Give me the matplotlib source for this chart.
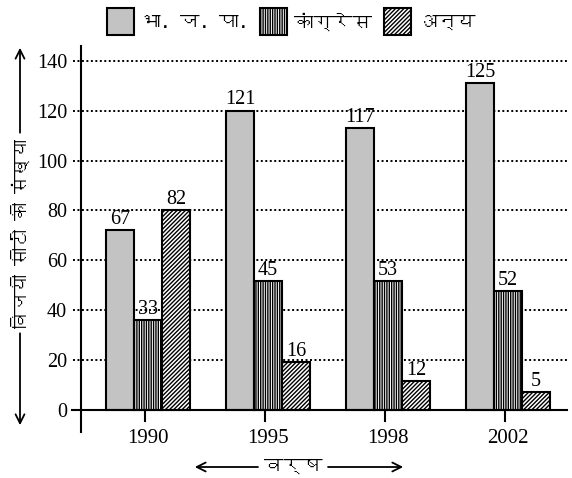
import numpy as np
import matplotlib
matplotlib.use("Agg")
import matplotlib.pyplot as plt
import matplotlib.patches as mpatches
import matplotlib.transforms as mtrans
from matplotlib import font_manager
from matplotlib.ft2font import FT2Font

# ---------------- data ----------------
years = ["1990", "1995", "1998", "2002"]
series_names = ["भा. ज. पा.", "कांग्रेस", "अन्य"]
bjp_labels = [67, 121, 117, 125]
congress_labels = [33, 45, 53, 52]
others_labels = [82, 16, 12, 5]
# bar heights as drawn on the axis scale in the picture
bjp_heights = [72, 120, 113, 131]
congress_heights = [36, 51.5, 51.5, 47.5]
others_heights = [80, 19, 11.5, 7]
yticks = [0, 20, 40, 60, 80, 100, 120, 140]
ylabel = "विजयी सीटों की संख्या"
xlabel = "वर्ष"

# ---------------- fonts ----------------
def find_deva_fonts():
    names = []
    for f in font_manager.fontManager.ttflist:
        try:
            ft = FT2Font(f.fname)
            if ft.get_char_index(0x0915) and f.name not in names:
                names.append(f.name)
        except Exception:
            pass
    return names

deva_family = find_deva_fonts() + ["DejaVu Sans"]
serif = "Liberation Serif"
plt.rcParams["hatch.linewidth"] = 1.0

W, H = 572, 478
fig = plt.figure(figsize=(W / 100, H / 100), dpi=100)
fig.patch.set_facecolor("white")
ax = fig.add_axes([81 / W, 46 / H, (567 - 81) / W, (432 - 46) / H])

x = np.arange(len(years))
w = 28 / 120
gray = "#c3c3c3"
lw = 1.5
hatch_v = "|||||||"
hatch_d = "////////"
styles = [dict(color=gray, hatch=None), dict(color="white", hatch=hatch_v), dict(color="white", hatch=hatch_d)]

b1 = ax.bar(x - w, bjp_heights, w, color=gray, edgecolor="black", linewidth=lw, zorder=3)
b2 = ax.bar(x, congress_heights, w, color="white", edgecolor="black", hatch=hatch_v, linewidth=lw, zorder=3)
b3 = ax.bar(x + w, others_heights, w, color="white", edgecolor="black", hatch=hatch_d, linewidth=lw, zorder=3)

for bars, labs in ((b1, bjp_labels), (b2, congress_labels), (b3, others_labels)):
    ax.bar_label(bars, labels=[str(v) for v in labs], padding=1, fontsize=14.5, family=serif, zorder=4)

ax.set_xlim(-0.558, 3.49)
ax.set_ylim(-8.9, 146)

trans = mtrans.blended_transform_factory(ax.transAxes, ax.transData)
for yv in yticks:
    if yv == 0:
        ax.plot([-0.018, 1], [0, 0], transform=trans, color="black", lw=1.5, clip_on=False, zorder=5)
    else:
        ax.plot([-0.016, 1], [yv, yv], transform=trans, color="black", lw=1.4,
                linestyle=(0, (1, 1.3)), clip_on=False, zorder=1)

for s in ["top", "right", "bottom"]:
    ax.spines[s].set_visible(False)
ax.spines["left"].set_linewidth(1.5)

ax.set_yticks(yticks)
ax.set_yticklabels([str(v) for v in yticks], family=serif, fontsize=14.5)
ax.tick_params(axis="y", length=0, pad=10)

ax.set_xticks(x)
ax.set_xticklabels(years, family=serif, fontsize=15)
ax.tick_params(axis="x", length=0, pad=-2)
for xi in x:
    ax.plot([xi - 0.025, xi - 0.025], [0, -4.6], color="black", lw=1.5, clip_on=False, zorder=5)

fig.canvas.draw()
renderer = fig.canvas.get_renderer()

# ---------------- legend (manual) ----------------
box_left = [107, 260, 377]
box_top, box_size = 8, 27
prev_end = 0
for i, name in enumerate(series_names):
    bx = max(box_left[i], prev_end + 12)
    rect = mpatches.Rectangle((bx, H - box_top - box_size), box_size, box_size, transform=None,
                              facecolor=styles[i]["color"], hatch=styles[i]["hatch"],
                              edgecolor="black", linewidth=1.5)
    fig.add_artist(rect)
    t = fig.text((bx + box_size + 7) / W, (H - box_top - box_size / 2) / H, name,
                 ha="left", va="center", fontsize=14, family=deva_family, fontweight="bold")
    bb = t.get_window_extent(renderer)
    prev_end = bb.x1

arrow = dict(arrowstyle="->", color="black", lw=1.3, mutation_scale=16)

# y label with arrows
ty = fig.text(20 / W, (H - 233) / H, ylabel, rotation=90, ha="center", va="center",
              fontsize=13, family=deva_family, fontweight="bold")
bb = ty.get_window_extent(renderer)
fig.add_artist(mpatches.FancyArrowPatch((20, bb.y1 + 3), (20, H - 45), transform=None, **arrow))
fig.add_artist(mpatches.FancyArrowPatch((20, bb.y0 - 3), (20, H - 428), transform=None, **arrow))

# x label with arrows
tx = fig.text(293 / W, (H - 466) / H, xlabel, ha="center", va="center",
              fontsize=14, family=deva_family, fontweight="bold")
bb = tx.get_window_extent(renderer)
fig.add_artist(mpatches.FancyArrowPatch((bb.x0 - 3, H - 467), (192, H - 467), transform=None, **arrow))
fig.add_artist(mpatches.FancyArrowPatch((bb.x1 + 3, H - 467), (406, H - 467), transform=None, **arrow))

fig.savefig("out.png", dpi=100, facecolor="white")
